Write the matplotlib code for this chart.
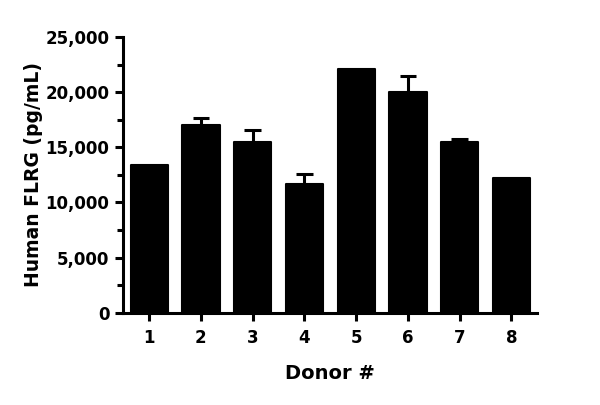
import matplotlib.pyplot as plt
from matplotlib.ticker import MultipleLocator, FuncFormatter

# Donor values (pg/mL), upper SD only
donors = ['1', '2', '3', '4', '5', '6', '7', '8']
flrg = [13400, 17000, 15450, 11700, 22150, 20050, 15500, 12250]
sd = [0, 650, 1100, 900, 0, 1450, 300, 0]

plt.rcParams['font.family'] = ['DejaVu Sans']
plt.rcParams['font.weight'] = 'bold'

fig = plt.figure(figsize=(6, 4.05), dpi=100)
ax = fig.add_axes([0.2055, 0.228, 0.69, 0.68])

x = list(range(1, len(donors) + 1))
ax.bar(x, flrg, width=0.72, color='black', edgecolor='black', linewidth=1.5,
       joinstyle='round', zorder=2)

# upper error bars only (stem + cap)
ex = [xi for xi, s in zip(x, sd) if s > 0]
lo = [v for v, s in zip(flrg, sd) if s > 0]
hi = [v + s for v, s in zip(flrg, sd) if s > 0]
ax.vlines(ex, lo, hi, color='black', linewidth=2.2, zorder=1)
ax.hlines(hi, [e - 0.16 for e in ex], [e + 0.16 for e in ex], color='black',
          linewidth=2.2, zorder=1)

ax.set_xlim(0.5, 8.5)
ax.set_ylim(0, 25000)
ax.set_xticks(x)
ax.set_xticklabels(donors)
ax.yaxis.set_major_locator(MultipleLocator(5000))
ax.yaxis.set_minor_locator(MultipleLocator(2500))
ax.yaxis.set_major_formatter(FuncFormatter(lambda v, p: f'{int(v):,}'))

for s in ['top', 'right']:
    ax.spines[s].set_visible(False)
for s in ['left', 'bottom']:
    ax.spines[s].set_linewidth(2.2)

ax.tick_params(axis='both', which='major', length=6, width=2.2, labelsize=12, pad=4)
ax.tick_params(axis='y', which='minor', length=4, width=2.2)
ax.tick_params(axis='x', pad=6)

ax.set_xlabel('Donor #', fontsize=14, fontweight='bold', labelpad=12)
ax.set_ylabel('Human FLRG (pg/mL)', fontsize=13.5, fontweight='bold', labelpad=2)

fig.savefig('out.png', dpi=100)
